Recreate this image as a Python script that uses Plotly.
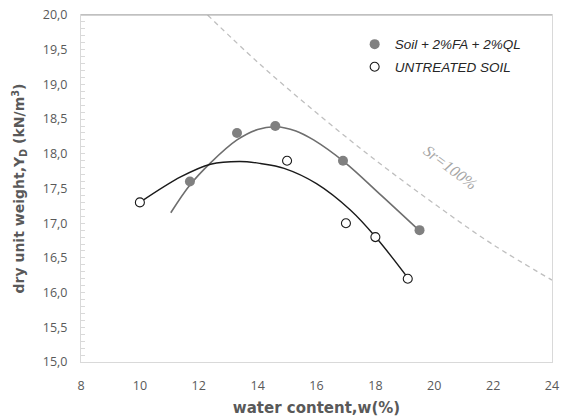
import plotly.graph_objects as go

# ---- data ----
treated_w = [11.7, 13.3, 14.6, 16.9, 19.5]
treated_g = [17.6, 18.3, 18.4, 17.9, 16.9]
untreated_w = [10.0, 15.0, 17.0, 18.0, 19.1]
untreated_g = [17.3, 17.9, 17.0, 16.8, 16.2]

# trendlines
treated_fit_w = [11.05, 11.7, 12.4, 13.3, 14.0, 14.6, 15.3, 15.9, 16.95, 18.2, 19.55]
treated_fit_g = [17.15, 17.55, 17.87, 18.2, 18.35, 18.39, 18.33, 18.2, 17.88, 17.4, 16.87]
untreated_fit_w = [10.0, 11.4, 12.4, 13.4, 14.1, 14.9, 16.0, 17.15, 18.03, 19.16]
untreated_fit_g = [17.3, 17.67, 17.85, 17.89, 17.86, 17.79, 17.57, 17.19, 16.79, 16.18]

# Sr = 100 % (zero air voids) line
sr_w = [12.3, 14, 16, 18, 20, 22, 24]
sr_g = [20.0, 19.32, 18.59, 17.91, 17.28, 16.69, 16.18]

x_ticks = [8, 10, 12, 14, 16, 18, 20, 22, 24]
y_ticks = [15.0, 15.5, 16.0, 16.5, 17.0, 17.5, 18.0, 18.5, 19.0, 19.5, 20.0]

fig = go.Figure()

fig.add_trace(go.Scatter(x=sr_w, y=sr_g, mode="lines", showlegend=False,
                         line=dict(color="#bfbfbf", width=1.3, dash="5px,4px", shape="spline")))
fig.add_trace(go.Scatter(x=treated_fit_w, y=treated_fit_g, mode="lines", showlegend=False,
                         line=dict(color="#6e6e6e", width=1.6, shape="spline", smoothing=1.0)))
fig.add_trace(go.Scatter(x=untreated_fit_w, y=untreated_fit_g, mode="lines", showlegend=False,
                         line=dict(color="#1a1a1a", width=1.4, shape="spline")))
fig.add_trace(go.Scatter(x=treated_w, y=treated_g, mode="markers",
                         name="<i>Soil + 2%FA + 2%QL</i>", legendgroup="a",
                         marker=dict(color="#808080", size=10, line=dict(width=0))))
fig.add_trace(go.Scatter(x=untreated_w, y=untreated_g, mode="markers",
                         name="<i>UNTREATED SOIL</i>", legendgroup="b",
                         marker=dict(color="white", size=9, line=dict(color="#1a1a1a", width=1.1))))

fig.add_annotation(x=20.55, y=17.8, text="<i>Sr=100%</i>", showarrow=False, textangle=37,
                   font=dict(family="Liberation Serif", size=16, color="#a6a6a6"))

axis_font = dict(family="Open Sans", size=12.5, color="#595959")
title_font = dict(family="DejaVu Sans", size=15, color="#595959")

fig.update_layout(
    width=561, height=417,
    margin=dict(l=81, r=9, t=15, b=55),
    paper_bgcolor="white", plot_bgcolor="white",
    separators=",.",
    showlegend=True,
    legend=dict(x=0.581, y=0.96, xanchor="left", yanchor="top",
                bgcolor="rgba(0,0,0,0)", tracegroupgap=2,
                font=dict(family="Liberation Sans", size=13.5, color="#262626")),
    xaxis=dict(range=[8, 24], tickvals=x_ticks, showgrid=False, zeroline=False, automargin=False,
               showline=True, linecolor="#d9d9d9", linewidth=1, mirror=True,
               ticks="", tickfont=axis_font, ticklabelstandoff=12, ticklabeloverflow="allow",
               title=dict(text="<b>water content,w(%)</b>", font=title_font, standoff=9)),
    yaxis=dict(range=[15, 20], tickvals=y_ticks, tickformat=".1f", showgrid=False, zeroline=False,
               automargin=False,
               showline=True, linecolor="#d9d9d9", linewidth=1, mirror=True,
               ticks="inside", ticklen=4, tickcolor="#d9d9d9",
               minor=dict(dtick=0.1, ticks="inside", ticklen=4, tickcolor="#d9d9d9"),
               tickfont=axis_font, ticklabelstandoff=10, ticklabeloverflow="allow",
               title=dict(text="<b>dry unit weight,Y<sub>D</sub> (kN/m<sup>3</sup>)</b>",
                          font=dict(family="DejaVu Sans", size=14, color="#595959"), standoff=14)),
)
fig.add_shape(type="line", xref="paper", yref="paper", x0=0, x1=1, y0=1, y1=1,
              line=dict(color="#a6a6a6", width=1))

# remove the default page margin so the 561x417 figure fills the window exactly
fig.write_html("out.html", config={"displayModeBar": False},
               post_script="document.body.style.margin='0';document.body.style.overflow='hidden';")
